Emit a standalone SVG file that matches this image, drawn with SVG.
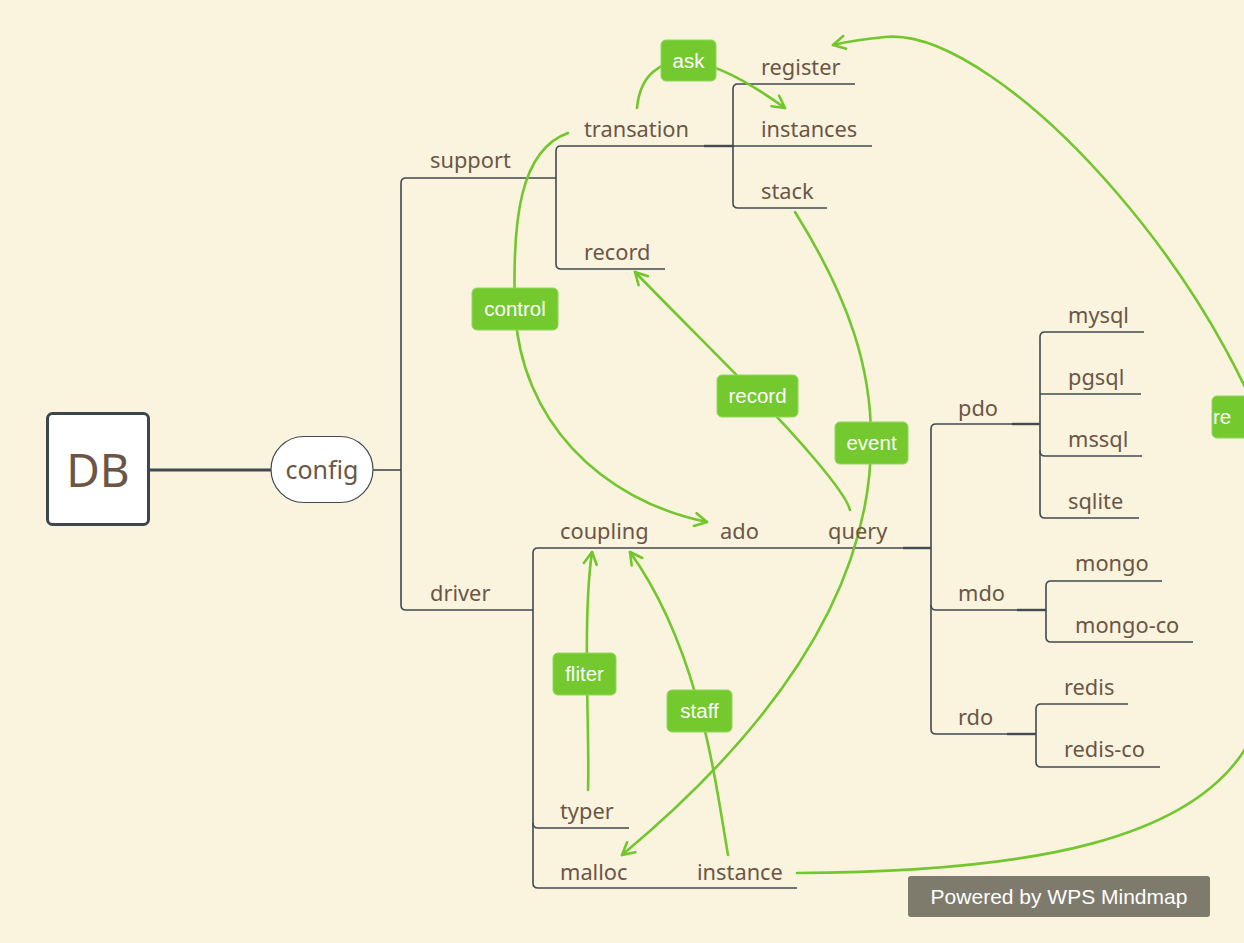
<svg xmlns="http://www.w3.org/2000/svg" width="1244" height="943" viewBox="0 0 1244 943">
<defs>
<style>
.bg{fill:#FAF3DE}
.br{fill:none;stroke:#414a52;stroke-width:1.6}
.brt{fill:none;stroke:#414a52;stroke-width:2.4}
.t{font-family:"Noto Sans","Open Sans",sans-serif;font-size:21.8px;fill:#6b5646}
.rel{fill:none;stroke:#72c62e;stroke-width:2.6;stroke-linecap:round}
.lb{fill:#73c92e;stroke:#8fd860;stroke-width:1}
.lt{font-family:"Liberation Sans",Arial,sans-serif;font-size:20.5px;fill:#ffffff;text-anchor:middle}
</style>
<marker id="arr" markerUnits="userSpaceOnUse" viewBox="0 0 16 16" refX="14" refY="8" markerWidth="16" markerHeight="16" orient="auto">
<path d="M2,1.5 L14,8 L2,14.5" fill="none" stroke="#72c62e" stroke-width="2.6" stroke-linecap="round" stroke-linejoin="round"/>
</marker>
</defs>
<rect class="bg" x="0" y="0" width="1244" height="943"/>

<g id="connectors">
<line x1="149" y1="470" x2="271" y2="470" stroke="#414a52" stroke-width="3"/>
<line class="br" x1="373" y1="470" x2="401" y2="470"/>
<path class="br" d="M556,178 L406,178 Q401,178 401,183 L401,605 Q401,610 406,610 L533,610"/>
<path class="br" d="M704,146 L561,146 Q556,146 556,151 L556,264 Q556,269 561,269 L665,269"/>
<line class="brt" x1="704" y1="146" x2="733" y2="146"/>
<path class="br" d="M855,84 L738,84 Q733,84 733,89 L733,203 Q733,208 738,208 L827,208"/>
<line class="br" x1="733" y1="146" x2="872" y2="146"/>
<path class="br" d="M903,548 L538,548 Q533,548 533,553 L533,883 Q533,888 538,888 L797,888"/>
<path class="br" d="M533,823 Q533,828 538,828 L629,828"/>
<line class="brt" x1="903" y1="548" x2="931" y2="548"/>
<path class="br" d="M1012,424 L936,424 Q931,424 931,429 L931,729 Q931,734 936,734 L1007,734"/>
<path class="br" d="M931,605 Q931,610 936,610 L1017,610"/>
<line class="brt" x1="1012" y1="424" x2="1040" y2="424"/>
<path class="br" d="M1144,332 L1045,332 Q1040,332 1040,337 L1040,513 Q1040,518 1045,518 L1139,518"/>
<line class="br" x1="1040" y1="394" x2="1141" y2="394"/>
<path class="br" d="M1040,451 Q1040,456 1045,456 L1142,456"/>
<line class="brt" x1="1017" y1="610" x2="1046" y2="610"/>
<path class="br" d="M1162,581 L1051,581 Q1046,581 1046,586 L1046,637 Q1046,642 1051,642 L1193,642"/>
<line class="brt" x1="1007" y1="734" x2="1036" y2="734"/>
<path class="br" d="M1128,704 L1041,704 Q1036,704 1036,709 L1036,762 Q1036,767 1041,767 L1160,767"/>

<path class="rel" marker-end="url(#arr)" d="M637,108 C640,75 660,60 688,61 C720,64 760,90 785,108"/>
<path class="rel" marker-end="url(#arr)" d="M568,133 C520,150 512,220 515,309 C520,420 600,500 707,522"/>
<path class="rel" marker-end="url(#arr)" d="M850,510 C845,490 790,430 757,396 C720,358 660,298 635,272"/>
<path class="rel" marker-end="url(#arr)" d="M795,212 C850,300 872,370 871,443 C870,600 760,740 622,855"/>
<path class="rel" marker-end="url(#arr)" d="M588,790 C590,740 582,620 592,552"/>
<path class="rel" marker-end="url(#arr)" d="M728,855 C715,780 700,650 630,552"/>
<path class="rel" d="M797,873 C1000,872 1225,850 1262,710"/>
<path class="rel" marker-end="url(#arr)" d="M1290,520 C1250,300 1000,25 885,37 C862,39 846,42 833,45"/>
</g>

<g id="node-db">
<rect x="47.5" y="413.5" width="101" height="111" rx="5" fill="#ffffff" stroke="#3d464e" stroke-width="3"/>
<text x="98" y="487" font-family="Noto Sans, sans-serif" font-size="46" fill="#6b5646" text-anchor="middle">DB</text>
</g>
<g id="node-config">
<rect x="271" y="436.5" width="102" height="66" rx="33" fill="#ffffff" stroke="#414a52" stroke-width="1.2"/>
<text x="322" y="479" font-family="Noto Sans, sans-serif" font-size="25" fill="#6b5646" text-anchor="middle">config</text>
</g>
<g id="node-support"><text class="t" x="430" y="168">support</text></g>
<g id="node-driver"><text class="t" x="430" y="601">driver</text></g>
<g id="node-transation"><text class="t" x="584" y="137">transation</text></g>
<g id="node-record"><text class="t" x="584" y="260">record</text></g>
<g id="node-register"><text class="t" x="761" y="75">register</text></g>
<g id="node-instances"><text class="t" x="761" y="137">instances</text></g>
<g id="node-stack"><text class="t" x="761" y="199">stack</text></g>
<g id="node-coupling"><text class="t" x="560" y="539">coupling</text></g>
<g id="node-ado"><text class="t" x="720" y="539">ado</text></g>
<g id="node-query"><text class="t" x="828" y="539">query</text></g>
<g id="node-typer"><text class="t" x="560" y="819">typer</text></g>
<g id="node-malloc"><text class="t" x="560" y="880">malloc</text></g>
<g id="node-instance"><text class="t" x="697" y="880">instance</text></g>
<g id="node-pdo"><text class="t" x="958" y="416">pdo</text></g>
<g id="node-mdo"><text class="t" x="958" y="601">mdo</text></g>
<g id="node-rdo"><text class="t" x="958" y="725">rdo</text></g>
<g id="node-mysql"><text class="t" x="1068" y="323">mysql</text></g>
<g id="node-pgsql"><text class="t" x="1068" y="385">pgsql</text></g>
<g id="node-mssql"><text class="t" x="1068" y="447">mssql</text></g>
<g id="node-sqlite"><text class="t" x="1068" y="509">sqlite</text></g>
<g id="node-mongo"><text class="t" x="1075" y="571">mongo</text></g>
<g id="node-mongo-co"><text class="t" x="1075" y="633">mongo-co</text></g>
<g id="node-redis"><text class="t" x="1064" y="695">redis</text></g>
<g id="node-redis-co"><text class="t" x="1064" y="757">redis-co</text></g>

<g id="label-ask"><rect class="lb" x="661" y="40" width="55" height="41" rx="5"/><text class="lt" x="688.5" y="68">ask</text></g>
<g id="label-control"><rect class="lb" x="472" y="288" width="86" height="42" rx="5"/><text class="lt" x="515" y="316">control</text></g>
<g id="label-record"><rect class="lb" x="717" y="375" width="81" height="42" rx="5"/><text class="lt" x="757.5" y="403">record</text></g>
<g id="label-event"><rect class="lb" x="835" y="422" width="73" height="42" rx="5"/><text class="lt" x="871.5" y="450">event</text></g>
<g id="label-fliter"><rect class="lb" x="553" y="653" width="63" height="42" rx="5"/><text class="lt" x="584.5" y="681">fliter</text></g>
<g id="label-staff"><rect class="lb" x="667" y="690" width="65" height="42" rx="5"/><text class="lt" x="699.5" y="718">staff</text></g>
<g id="label-re"><rect class="lb" x="1212" y="396" width="60" height="42" rx="5"/><text class="lt" x="1222" y="424" text-anchor="start">re</text></g>

<g id="watermark">
<rect x="908" y="876" width="302" height="41" rx="3" fill="#7e7b6d"/>
<text x="1059" y="904" font-family="Liberation Sans, Arial, sans-serif" font-size="21" fill="#ffffff" text-anchor="middle">Powered by WPS Mindmap</text>
</g>
</svg>
